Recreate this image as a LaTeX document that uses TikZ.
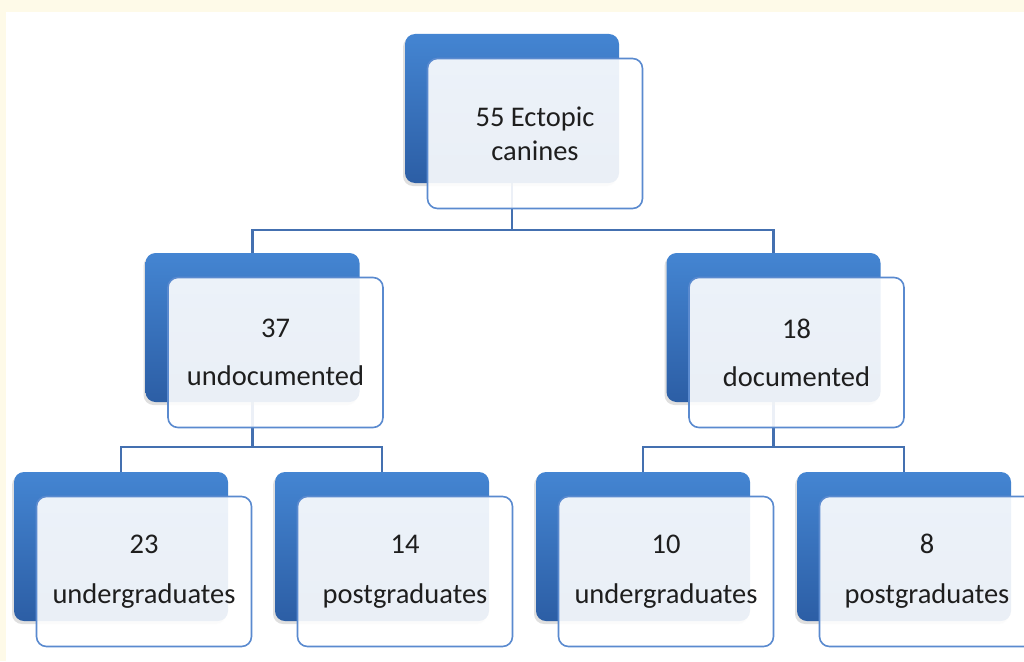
\documentclass[tikz,border=0pt]{standalone}
\usepackage{fontspec}
\setmainfont{Carlito}
\usetikzlibrary{shadows}
\pgfdeclarelayer{back}
\pgfdeclarelayer{bg}
\pgfsetlayers{back,bg,main}
\definecolor{cream}{HTML}{FEFAE8}
\definecolor{bluetop}{HTML}{4485D2}
\definecolor{bluebot}{HTML}{2C5EA5}
\definecolor{edgeblue}{HTML}{5A8ACF}
\definecolor{connblue}{HTML}{4470B0}
\definecolor{txt}{HTML}{1E1E1E}
\tikzset{
 backbox/.style={rounded corners=10pt, minimum width=214pt, minimum height=149pt,
   top color=bluetop, bottom color=bluebot, draw=none, inner sep=0pt,
   drop shadow={shadow xshift=-2pt, shadow yshift=-3pt, opacity=0.25}},
 frontbox/.style={rounded corners=10pt, minimum width=215pt, minimum height=150pt,
   draw=edgeblue, line width=1.6pt, fill=white, fill opacity=0.9, text opacity=1,
   text=txt, align=center, font=\fontsize{28.5}{34}\selectfont, inner sep=0pt},
 connline/.style={draw=connblue, line width=2.5pt}
}
\begin{document}
\begin{tikzpicture}[x=1pt,y=-1pt]
\useasboundingbox (0,0) rectangle (1024,661);
\begin{pgfonlayer}{back}
\fill[cream] (0,0) rectangle (1024,661);
\fill[white] (6,12) rectangle (1024,661);
\end{pgfonlayer}

% top
\node[backbox] (tb) at (512,108.5) {};
\node[frontbox] (tf) at (535,133.5) {55 Ectopic\\canines};
% level 2
\node[backbox] (lb) at (252.5,327.5) {};
\node[frontbox] (lf) at (275.5,352.5) {37\\[14pt]undocumented};
\node[backbox] (rb) at (773.5,327.5) {};
\node[frontbox] (rf) at (796.5,352.5) {18\\[14pt]documented};
% level 3
\node[backbox] (llb) at (121,546.5) {};
\node[frontbox] (llf) at (144,571.5) {23\\[16pt]undergraduates};
\node[backbox] (lrb) at (382,546.5) {};
\node[frontbox] (lrf) at (405,571.5) {14\\[16pt]postgraduates};
\node[backbox] (rlb) at (643,546.5) {};
\node[frontbox] (rlf) at (666,571.5) {10\\[16pt]undergraduates};
\node[backbox] (rrb) at (904,546.5) {};
\node[frontbox] (rrf) at (927,571.5) {8\\[16pt]postgraduates};

\coordinate (m1) at (0,230);
\coordinate (m2) at (0,447);
\begin{pgfonlayer}{bg}
\draw[connline] (tb.center) -- (tb.center |- m1);
\draw[connline] (lb.north) -- (lb.north |- m1) -- (rb.north |- m1) -- (rb.north);
\draw[connline] (lb.center) -- (lb.center |- m2);
\draw[connline] (llb.north) -- (llb.north |- m2) -- (lrb.north |- m2) -- (lrb.north);
\draw[connline] (rb.center) -- (rb.center |- m2);
\draw[connline] (rlb.north) -- (rlb.north |- m2) -- (rrb.north |- m2) -- (rrb.north);
\end{pgfonlayer}
\end{tikzpicture}
\end{document}
